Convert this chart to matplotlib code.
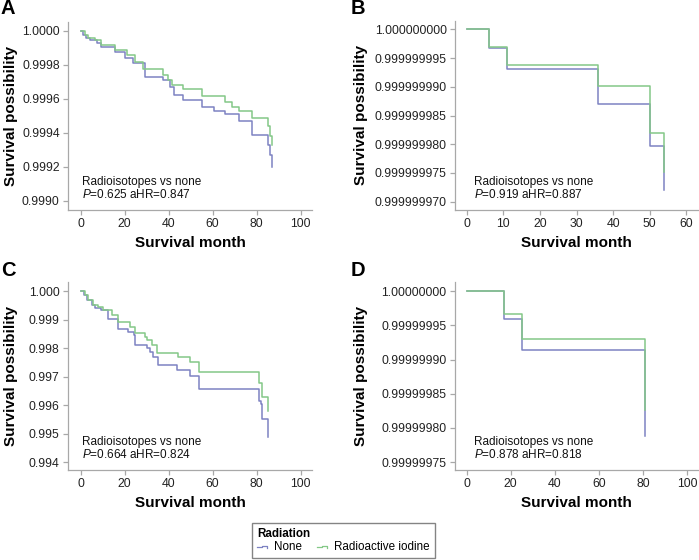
import matplotlib
matplotlib.use('Agg')
import matplotlib.pyplot as plt
from matplotlib.ticker import FixedLocator, FormatStrFormatter
from matplotlib.legend_handler import HandlerBase
from matplotlib.lines import Line2D

plt.rcParams['font.family'] = ['Liberation Sans', 'DejaVu Sans']
plt.rcParams['mathtext.fontset'] = 'custom'
plt.rcParams['mathtext.it'] = 'Liberation Sans:italic'
plt.rcParams['mathtext.rm'] = 'Liberation Sans'

# ---------------- data ----------------
# Panel A
a_t_none = [0, 1.0, 2.5, 4.0, 7.2, 9.4, 15.5, 20.1, 23.9, 29.2, 37.6, 40.6, 42.2, 46.7,
            55.1, 60.5, 65.8, 71.8, 77.9, 85.1, 86.0, 87.1]
a_s_none = [1.0, 0.999976, 0.999957, 0.999947, 0.999927, 0.999908, 0.999878, 0.999840,
            0.999810, 0.999731, 0.999712, 0.999673, 0.999624, 0.999594, 0.999550, 0.999530,
            0.999510, 0.999470, 0.999390, 0.999330, 0.999270, 0.999200]
a_t_iod = [0, 1.8, 3.3, 6.4, 9.4, 15.5, 20.9, 24.7, 28.5, 37.6, 39.9, 41.4, 46.7, 55.1,
           65.8, 68.8, 71.8, 77.9, 85.1, 86.0, 87.1]
a_s_iod = [1.0, 0.999976, 0.999957, 0.999947, 0.999918, 0.999888, 0.999859, 0.999820,
           0.999775, 0.999741, 0.999712, 0.999682, 0.999657, 0.999620, 0.999580, 0.999550,
           0.999530, 0.999490, 0.999440, 0.999380, 0.999330]
a_yticks = [0.9990, 0.9992, 0.9994, 0.9996, 0.9998, 1.0000]
a_xticks = [0, 20, 40, 60, 80, 100]

# Panel B
b_t_none = [0, 6, 11, 36, 50, 54]
b_s_none = [1.0, 1 - 3.3e-9, 1 - 6.96e-9, 1 - 13.06e-9, 1 - 20.25e-9, 1 - 28.0e-9]
b_t_iod = [0, 6, 11, 36, 50, 54]
b_s_iod = [1.0, 1 - 3.0e-9, 1 - 6.15e-9, 1 - 9.87e-9, 1 - 18.0e-9, 1 - 24.8e-9]
b_yticks = [0.999999970, 0.999999975, 0.999999980, 0.999999985, 0.999999990,
            0.999999995, 1.000000000]
b_xticks = [0, 10, 20, 30, 40, 50, 60]

# Panel C
c_t_none = [0, 1.5, 3.0, 4.9, 6.4, 9.4, 12.5, 17.0, 21.6, 24.0, 24.7, 30.0, 31.5, 33.0,
            35.3, 43.7, 49.8, 54.0, 81.0, 81.9, 82.5, 85.2]
c_s_none = [1.0, 0.99987, 0.99969, 0.99952, 0.99940, 0.99934, 0.99902, 0.99866, 0.99858,
            0.99846, 0.99811, 0.99800, 0.99788, 0.99770, 0.99741, 0.99722, 0.99702,
            0.99655, 0.99615, 0.99604, 0.99550, 0.99489]
c_t_iod = [0, 1.8, 3.3, 5.6, 7.9, 10.2, 14.0, 17.0, 22.4, 24.7, 29.2, 30.0, 32.3, 34.6,
           44.4, 49.8, 54.0, 81.3, 82.5, 85.2]
c_s_iod = [1.0, 0.99987, 0.99969, 0.99952, 0.99946, 0.99934, 0.99917, 0.99893, 0.99876,
           0.99852, 0.99840, 0.99829, 0.99811, 0.99782, 0.99770, 0.99752, 0.99715,
           0.99676, 0.99629, 0.99580]
c_yticks = [0.994, 0.995, 0.996, 0.997, 0.998, 0.999, 1.000]
c_xticks = [0, 20, 40, 60, 80, 100]

# Panel D
d_t_none = [0, 16.9, 24.9, 80.8]
d_s_none = [1.0, 1 - 4.1e-8, 1 - 8.6e-8, 1 - 21.2e-8]
d_t_iod = [0, 16.9, 24.9, 80.8]
d_s_iod = [1.0, 1 - 3.32e-8, 1 - 7.03e-8, 1 - 17.4e-8]
d_yticks = [0.99999975, 0.99999980, 0.99999985, 0.99999990, 0.99999995, 1.00000000]
d_xticks = [0, 20, 40, 60, 80, 100]

stats_text = ["$\\it{P}$=0.625 aHR=0.847", "$\\it{P}$=0.919 aHR=0.887",
              "$\\it{P}$=0.664 aHR=0.824", "$\\it{P}$=0.878 aHR=0.818"]
panel_letters = ["A", "B", "C", "D"]
legend_labels = ["None", "Radioactive iodine"]

BLUE = "#7d82c2"
GREEN = "#84c887"
SPINE = "#a8a8a8"

W, H = 699, 560
fig = plt.figure(figsize=(W / 100, H / 100), dpi=100)


def fx(px):
    return px / W


def fy(py):
    return 1 - py / H


# axes boxes in pixel coords: left, top, right, bottom
boxes = [
    (68, 21.7, 312, 210),
    (455, 20.7, 698, 210),
    (68, 281.7, 312, 470),
    (455, 281.7, 698, 470),
]
ylims = [
    (0.998947, 1.0000547),
    (0.99999997 - 1.44e-9, 1.0 + 1.5e-9),
    (0.993719, 1.000338),
    (0.99999975 - 1.17e-8, 1.0 + 1.4e-8),
]
xlims = [(-5.8, 105.2), (-3.2, 63.2), (-5.8, 105.2), (-5.3, 105.0)]
fmts = ["%.4f", "%.9f", "%.3f", "%.8f"]
ylabel_x = [-0.232, -0.385, -0.232, -0.385]

data = [
    (a_t_none, a_s_none, a_t_iod, a_s_iod, a_xticks, a_yticks),
    (b_t_none, b_s_none, b_t_iod, b_s_iod, b_xticks, b_yticks),
    (c_t_none, c_s_none, c_t_iod, c_s_iod, c_xticks, c_yticks),
    (d_t_none, d_s_none, d_t_iod, d_s_iod, d_xticks, d_yticks),
]

letter_pos = [(8, 9), (358, 9), (8, 270), (358, 270)]

for i, (box, dd) in enumerate(zip(boxes, data)):
    l, t, r, b = box
    ax = fig.add_axes([fx(l), fy(b), fx(r) - fx(l), fy(t) - fy(b)])
    tn, sn, ti, si, xt, yt = dd
    ax.step(tn, sn, where='post', color=BLUE, lw=1.1, zorder=2)
    ax.step(ti, si, where='post', color=GREEN, lw=1.1, zorder=3)
    ax.set_xlim(*xlims[i])
    ax.set_ylim(*ylims[i])
    ax.xaxis.set_major_locator(FixedLocator(xt))
    ax.yaxis.set_major_locator(FixedLocator(yt))
    ax.yaxis.set_major_formatter(FormatStrFormatter(fmts[i]))
    ax.xaxis.set_major_formatter(FormatStrFormatter("%d"))
    for s in ['top', 'right']:
        ax.spines[s].set_visible(False)
    for s in ['left', 'bottom']:
        ax.spines[s].set_color(SPINE)
        ax.spines[s].set_linewidth(0.9)
    ax.tick_params(axis='both', direction='out', length=3.5, width=0.9, color=SPINE,
                   labelcolor='#222222', labelsize=8.8, pad=2.5)
    ax.set_facecolor('none')
    ax.set_xlabel("Survival month", fontsize=11, fontweight='bold', va='center')
    ax.xaxis.set_label_coords(0.5, -0.174)
    ax.set_ylabel("Survival possibility", fontsize=11, fontweight='bold', va='center')
    ax.yaxis.set_label_coords(ylabel_x[i], 0.5)
    tx = 0.057 if i in (0, 2) else 0.078
    ax.text(tx, 0.149, "Radioisotopes vs none", transform=ax.transAxes, fontsize=8.5,
            va='center', ha='left', color='#111111')
    ax.text(tx, 0.084, stats_text[i], transform=ax.transAxes, fontsize=8.5,
            va='center', ha='left', color='#111111')
    lx, ly = letter_pos[i]
    fig.text(fx(lx), fy(ly), panel_letters[i], fontsize=14.5, fontweight='bold',
             ha='center', va='center')


class StepHandler(HandlerBase):
    def create_artists(self, legend, orig_handle, xdescent, ydescent, width, height,
                       fontsize, trans):
        x0 = -xdescent
        y0 = -ydescent
        xs = [x0, x0 + 0.45 * width, x0 + 0.45 * width, x0 + width, x0 + width]
        ys = [y0 + 0.4 * height, y0 + 0.4 * height, y0 + 0.55 * height,
              y0 + 0.55 * height, y0 + 0.3 * height]
        ln = Line2D(xs, ys, color=orig_handle.get_color(), lw=0.9, transform=trans)
        return [ln]


h1 = Line2D([0], [0], color=BLUE)
h2 = Line2D([0], [0], color=GREEN)
leg = fig.legend([h1, h2], legend_labels, loc='center',
                 bbox_to_anchor=(fx(343.5), fy(540.5)), bbox_transform=fig.transFigure,
                 ncol=2, title="Radiation", fontsize=8.4, title_fontsize=8.4,
                 handler_map={Line2D: StepHandler()}, handlelength=0.85,
                 handletextpad=0.6, columnspacing=1.3, frameon=True, fancybox=False,
                 borderpad=0.42, labelspacing=0.1, alignment='left', borderaxespad=0)
leg.get_title().set_fontweight('bold')
leg.get_frame().set_edgecolor('#666666')
leg.get_frame().set_linewidth(1.0)

fig.savefig("out.png", dpi=100)
